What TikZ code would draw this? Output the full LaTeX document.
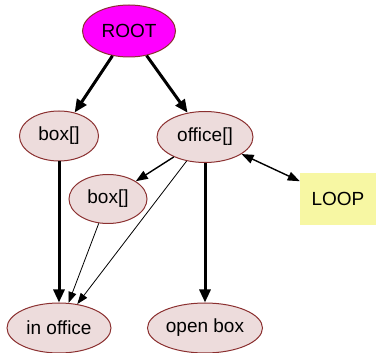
\documentclass[tikz,border=0pt]{standalone}
\usepackage{fontspec}
\setmainfont{Liberation Sans}
\usetikzlibrary{arrows.meta,shapes.geometric}
\definecolor{nodefill}{HTML}{EDDCDC}
\definecolor{nodeline}{HTML}{8B3030}
\definecolor{loopfill}{HTML}{F7F7A3}
\definecolor{rootfill}{HTML}{FF00FF}
\begin{document}
\begin{tikzpicture}[x=1pt,y=-1pt,
  ell/.style={ellipse,draw=nodeline,line width=1pt,fill=nodefill,inner sep=0pt,
    font=\fontsize{19}{21}\selectfont},
  thickedge/.style={line width=3pt,-{Triangle[length=13pt,width=11pt]}},
  thinedge/.style={line width=0.8pt,-{Triangle[length=11pt,width=8pt]}},
  midedge/.style={line width=1.4pt,-{Triangle[length=12pt,width=9pt]}},
  loopedge/.style={line width=1.4pt,{Triangle[length=12pt,width=9pt]}-{Triangle[length=12pt,width=9pt]}}]
\useasboundingbox (0,0) rectangle (376,353);
\node[ell,fill=rootfill,minimum width=93pt,minimum height=52pt] (root) at (129,31) {ROOT};
\node[ell,minimum width=79pt,minimum height=50pt] (box1) at (59,136) {box[]};
\node[ell,minimum width=96pt,minimum height=51pt] (office) at (205,137) {office[]};
\node[ell,minimum width=78pt,minimum height=49pt] (box2) at (108,199) {box[]};
\node[rectangle,fill=loopfill,minimum width=76pt,minimum height=52pt,inner sep=0pt,
  font=\fontsize{19}{21}\selectfont] (loop) at (338,199) {LOOP};
\node[ell,minimum width=104pt,minimum height=50pt] (inoffice) at (59,328) {in office};
\node[ell,minimum width=115pt,minimum height=50pt] (openbox) at (205,328) {open box};
\draw[thickedge] (root) -- (box1);
\draw[thickedge] (root) -- (office);
\draw[thickedge] (box1) -- (inoffice);
\draw[thickedge] (office) -- (openbox);
\draw[midedge] (office) -- (box2);
\draw[thinedge] (office) -- (inoffice);
\draw[thinedge] (box2) -- (inoffice);
\draw[loopedge] (office) -- (loop);
\end{tikzpicture}
\end{document}
